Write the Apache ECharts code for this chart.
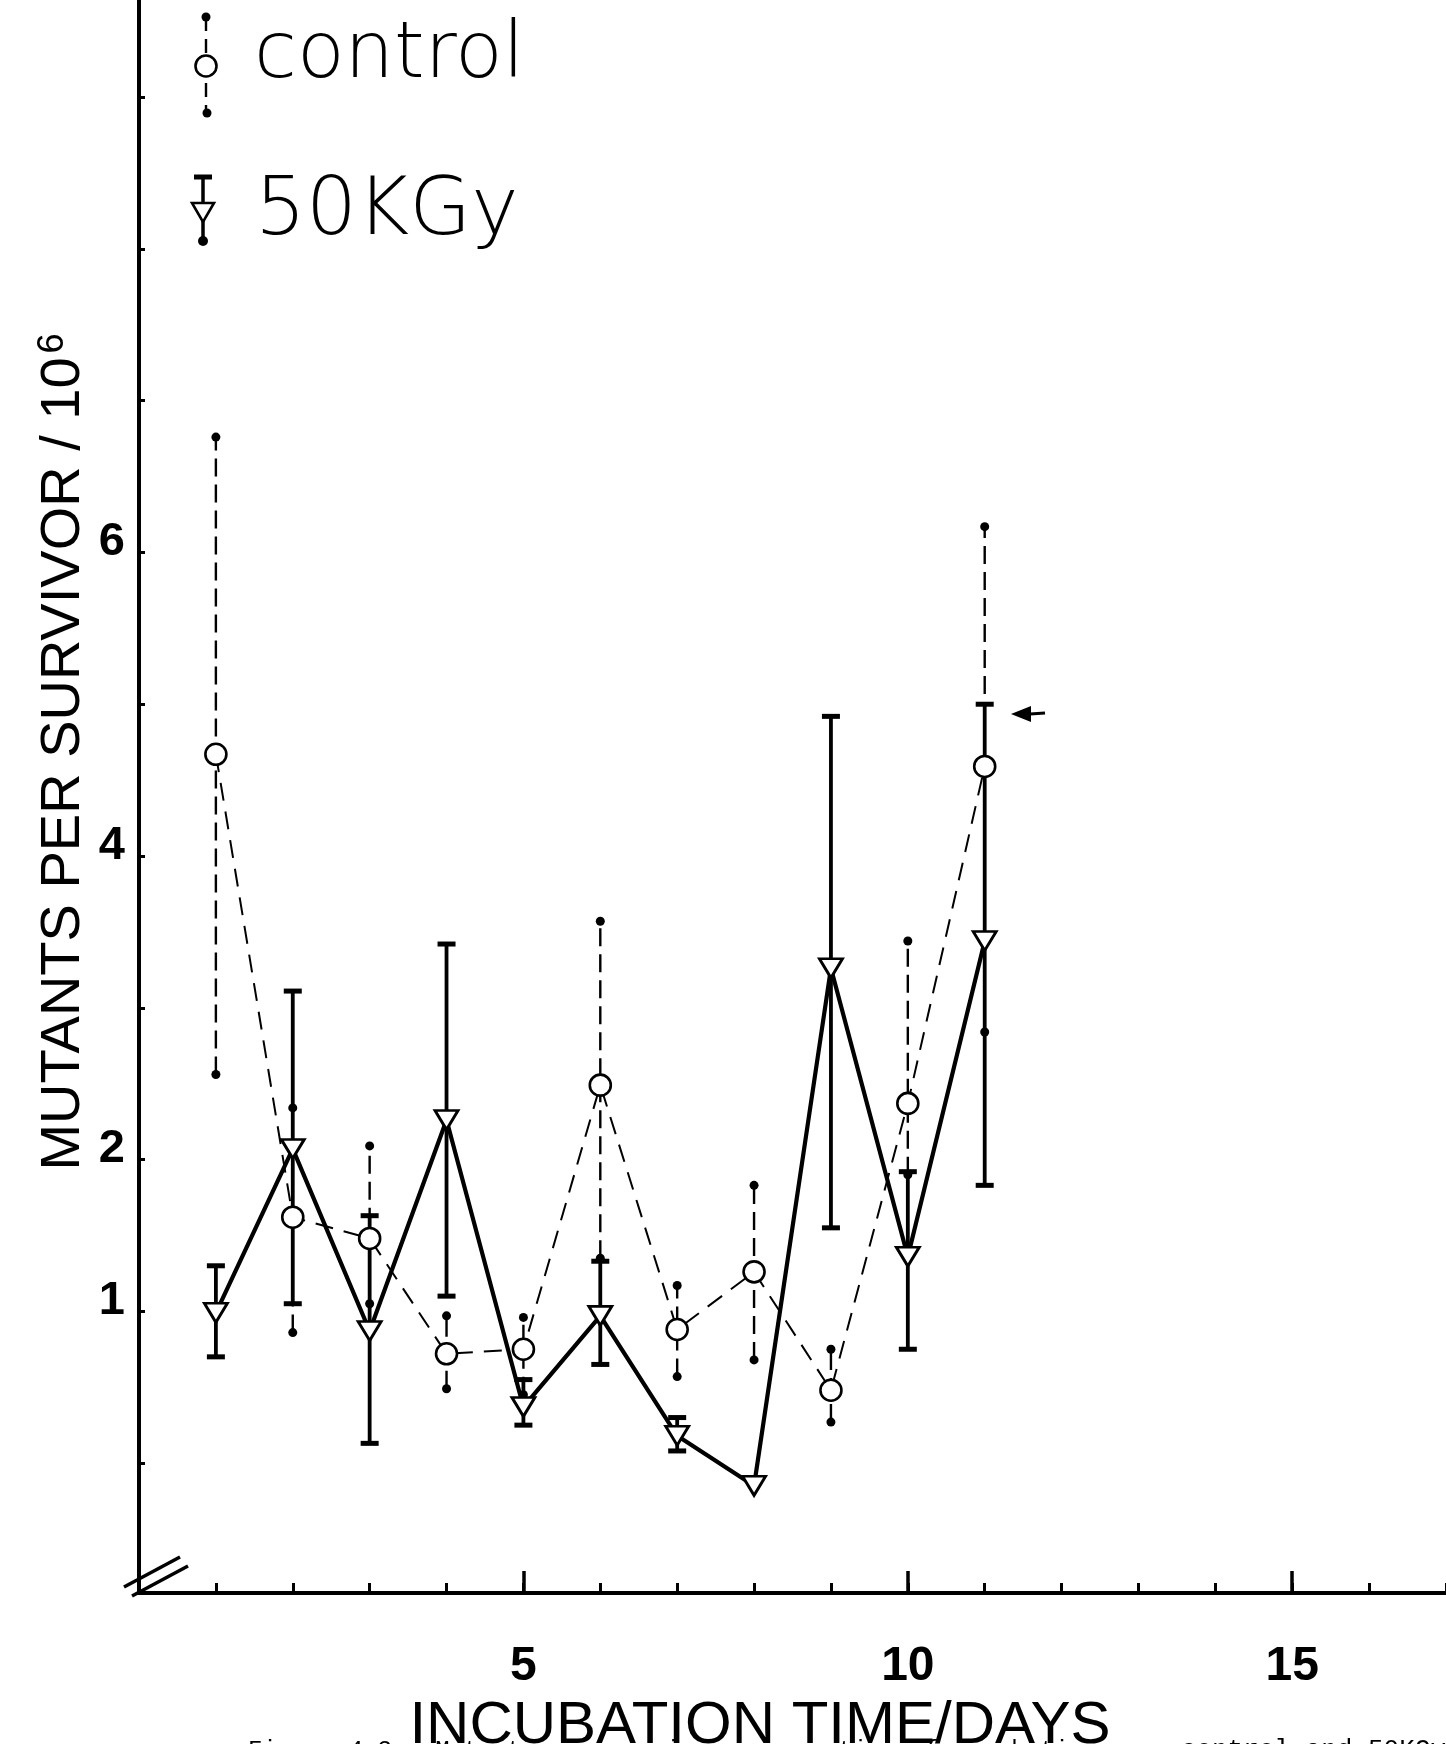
<!DOCTYPE html>
<html>
<head>
<meta charset="utf-8">
<script src="https://cdn.jsdelivr.net/npm/echarts@6/dist/echarts.min.js"></script>
<style>
html,body{margin:0;padding:0;background:#fff;}
#chart{width:1446px;height:1744px;}
</style>
</head>
<body>
<div id="chart"></div>
<script>
// ---- data ----
const days = [1, 2, 3, 4, 5, 6, 7, 8, 9, 10, 11];
const controlMean = [4.67, 1.62, 1.48, 0.72, 0.75, 2.49, 0.88, 1.26, 0.48, 2.37, 4.59];
const controlHigh = [6.76, 2.34, 2.09, 0.97, 0.96, 3.57, 1.17, 1.83, 0.75, 3.44, 6.17];
const controlLow  = [2.56, 0.86, 1.05, 0.49, 0.45, 1.35, 0.57, 0.68, 0.27, 1.90, 2.84];
const doseMean = [0.99, 2.07, 0.87, 2.26, 0.37, 0.97, 0.18, -0.15, 3.26, 1.36, 3.44];
const doseHigh = [1.30, 3.11, 1.63, 3.42, 0.55, 1.33, 0.30, null, 4.92, 1.92, 5.00];
const doseLow  = [0.70, 1.05, 0.13, 1.10, 0.25, 0.65, 0.08, null, 1.55, 0.75, 1.83];
const xTickLabels = [5, 10, 15];
const yTickLabels = [1, 2, 4, 6];
const yTickMarks = [0, 1, 2, 3, 4, 5, 6, 7, 8, 9];
const seriesNames = ['control', '50KGy'];
const xTitle = 'INCUBATION TIME/DAYS';
const yTitle = 'MUTANTS PER SURVIVOR / 10';
const captionLeft = 'Figure 4.3   Mutants per survivor versus time of incubation';
const captionRight = 'control and 50KGy';

const chart = echarts.init(document.getElementById('chart'), null, {renderer: 'canvas'});

function barData(low, high) {
  const out = [];
  days.forEach((d, i) => { if (low[i] != null && high[i] != null) out.push([d, low[i], high[i]]); });
  return out;
}

function barRenderer(kind) {
  return function (params, api) {
    const x = api.value(0);
    const lo = api.coord([x, api.value(1)]);
    const hi = api.coord([x, api.value(2)]);
    const children = [{
      type: 'line',
      shape: {x1: lo[0], y1: lo[1], x2: hi[0], y2: hi[1]},
      style: {stroke: '#000', lineWidth: kind === 'c' ? 2.4 : 3.8, lineDash: kind === 'c' ? [18, 8] : null}
    }];
    if (kind === 'c') {
      children.push({type: 'circle', shape: {cx: hi[0], cy: hi[1], r: 4.5}, style: {fill: '#000'}});
      children.push({type: 'circle', shape: {cx: lo[0], cy: lo[1], r: 4.5}, style: {fill: '#000'}});
    } else {
      children.push({type: 'line', shape: {x1: hi[0] - 9, y1: hi[1], x2: hi[0] + 9, y2: hi[1]}, style: {stroke: '#000', lineWidth: 5}});
      children.push({type: 'line', shape: {x1: lo[0] - 9, y1: lo[1], x2: lo[0] + 9, y2: lo[1]}, style: {stroke: '#000', lineWidth: 5}});
    }
    return {type: 'group', children};
  };
}

const labelFont = '"Liberation Sans", Arial, sans-serif';
const legendFont = '"DejaVu Sans", Inter, sans-serif';

const option = {
  backgroundColor: '#fff',
  animation: false,
  grid: {left: 139, right: 0, top: 0, bottom: 151, containLabel: false},
  xAxis: [
    {
      type: 'value', min: 0, max: 17, interval: 5, position: 'bottom',
      axisLine: {show: true, onZero: false, lineStyle: {color: '#000', width: 4}},
      axisTick: {show: true, inside: true, length: 22, customValues: xTickLabels, lineStyle: {color: '#000', width: 3.5}},
      axisLabel: {
        show: true, customValues: xTickLabels, margin: 50,
        color: '#000', fontFamily: labelFont, fontWeight: 'bold', fontSize: 48
      },
      splitLine: {show: false}
    },
    {
      type: 'value', min: 0, max: 17, interval: 1, position: 'bottom', offset: 0,
      axisLine: {show: false, onZero: false},
      axisTick: {show: true, inside: true, length: 10, lineStyle: {color: '#000', width: 3}},
      axisLabel: {show: false},
      splitLine: {show: false}
    }
  ],
  yAxis: {
    type: 'value', min: -0.856, max: 9.64,
    axisLine: {show: true, onZero: false, lineStyle: {color: '#000', width: 4}},
    axisTick: {show: true, inside: true, length: 6, customValues: yTickMarks, lineStyle: {color: '#000', width: 3}},
    axisLabel: {
      show: true, customValues: yTickLabels, margin: 14, verticalAlign: 'bottom', lineHeight: 20,
      color: '#000', fontFamily: labelFont, fontWeight: 'bold', fontSize: 47
    },
    splitLine: {show: false}
  },
  series: [
    {
      type: 'custom', name: seriesNames[0] + ' error', z: 1,
      renderItem: barRenderer('c'), data: barData(controlLow, controlHigh),
      encode: {x: 0, y: [1, 2]}
    },
    {
      type: 'custom', name: seriesNames[1] + ' error', z: 1,
      renderItem: barRenderer('d'), data: barData(doseLow, doseHigh),
      encode: {x: 0, y: [1, 2]}
    },
    {
      type: 'line', name: seriesNames[0], z: 3,
      data: days.map((d, i) => [d, controlMean[i]]),
      symbol: 'circle', symbolSize: 21, showAllSymbol: true,
      lineStyle: {color: '#000', width: 2, type: [18, 11]},
      itemStyle: {color: '#fff', borderColor: '#000', borderWidth: 2.6}
    },
    {
      type: 'line', name: seriesNames[1], z: 4,
      data: days.map((d, i) => [d, doseMean[i]]),
      symbol: 'triangle', symbolRotate: 180, symbolSize: [23, 19], showAllSymbol: true,
      lineStyle: {color: '#000', width: 4.2},
      itemStyle: {color: '#fff', borderColor: '#000', borderWidth: 2.8}
    }
  ],
  graphic: [
    // legend: control
    {type: 'line', shape: {x1: 206, y1: 17, x2: 206, y2: 113}, style: {stroke: '#000', lineWidth: 2.4, lineDash: [14, 8]}, z: 10},
    {type: 'circle', shape: {cx: 206, cy: 17, r: 4.5}, style: {fill: '#000'}, z: 11},
    {type: 'circle', shape: {cx: 207, cy: 113, r: 4.5}, style: {fill: '#000'}, z: 11},
    {type: 'circle', shape: {cx: 206, cy: 66, r: 10.5}, style: {fill: '#fff', stroke: '#000', lineWidth: 2.6}, z: 12},
    {type: 'text', x: 254, y: 57, z: 12, style: {text: seriesNames[0], font: '200 78px ' + legendFont, fill: '#000', verticalAlign: 'middle'}},
    // legend: 50KGy
    {type: 'line', shape: {x1: 203, y1: 177, x2: 203, y2: 241}, style: {stroke: '#000', lineWidth: 3.5}, z: 10},
    {type: 'line', shape: {x1: 194, y1: 177, x2: 212, y2: 177}, style: {stroke: '#000', lineWidth: 5}, z: 10},
    {type: 'circle', shape: {cx: 203, cy: 241, r: 5}, style: {fill: '#000'}, z: 11},
    {type: 'polygon', shape: {points: [[192, 203], [214, 203], [203, 222]]}, style: {fill: '#fff', stroke: '#000', lineWidth: 2.6}, z: 12},
    {type: 'text', x: 255, y: 213, z: 12, style: {text: seriesNames[1], font: '200 80px ' + legendFont, fill: '#000', verticalAlign: 'middle'}},
    // y axis title
    {type: 'text', x: 64, y: 752, rotation: Math.PI / 2, z: 12,
      style: {
        text: yTitle + '{sup|6}', fill: '#000', align: 'center', verticalAlign: 'middle',
        font: '56px ' + labelFont,
        rich: {sup: {fontSize: 36, fontFamily: labelFont, verticalAlign: 'top', padding: [0, 0, 22, 4]}}
      }},
    // x axis title
    {type: 'text', x: 760, y: 1726, z: 12,
      style: {text: xTitle, fill: '#000', align: 'center', verticalAlign: 'middle', font: '60px ' + labelFont}},
    // caption (cut at the bottom edge)
    {type: 'text', x: 248, y: 1739, z: 12,
      style: {text: captionLeft, fill: '#000', align: 'left', verticalAlign: 'top', font: '24px "Liberation Mono", monospace'}},
    {type: 'text', x: 1446, y: 1737, z: 12,
      style: {text: captionRight, fill: '#000', align: 'right', verticalAlign: 'top', font: '26px "Liberation Mono", monospace'}},
    // axis break marks
    {type: 'line', shape: {x1: 124, y1: 1587, x2: 180, y2: 1557}, style: {stroke: '#000', lineWidth: 3.5}, z: 12},
    {type: 'line', shape: {x1: 132, y1: 1596, x2: 188, y2: 1566}, style: {stroke: '#000', lineWidth: 3.5}, z: 12},
    // small hand-drawn arrow
    {type: 'polygon', shape: {points: [[1011, 714], [1031, 706], [1031, 722]]}, style: {fill: '#000'}, z: 12},
    {type: 'line', shape: {x1: 1030, y1: 714, x2: 1045, y2: 713}, style: {stroke: '#000', lineWidth: 3}, z: 12}
  ]
};
chart.setOption(option);
</script>
</body>
</html>
